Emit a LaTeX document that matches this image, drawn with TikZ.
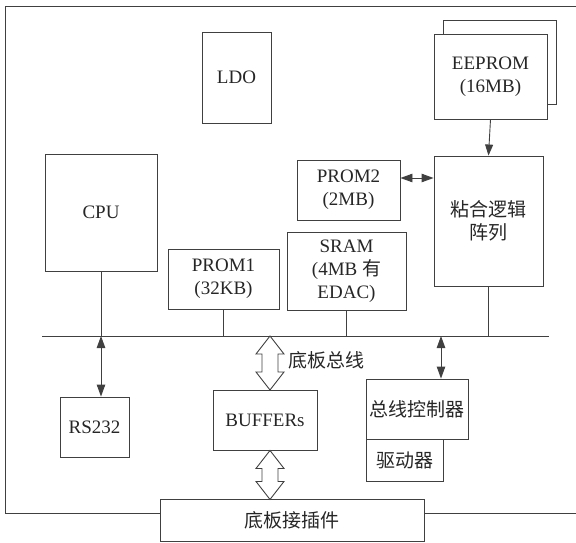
\documentclass[tikz,border=0pt]{standalone}
\usepackage{fontspec}
\setmainfont{Liberation Serif}
\newfontfamily\cjk{Noto Sans CJK SC}
\usetikzlibrary{arrows.meta, positioning}

\begin{document}
\begin{tikzpicture}[x=1pt, y=-1pt, line width=0.9pt,
    every node/.style={draw=black!75, rectangle, inner sep=0pt, align=center,
      text=black!85, font=\fontsize{19}{23}\selectfont},
    link/.style={draw=black!75},
    dbl/.style={link, {Triangle[length=12pt,width=8.5pt]}-{Triangle[length=12pt,width=8.5pt]}},
    sgl/.style={link, -{Triangle[length=11pt,width=8pt]}},
    hollow/.style={draw=black!75, fill=white, line join=miter}]
    \useasboundingbox (0,0) rectangle (576,543);

    % blocks
    \node[minimum width=69, minimum height=91] (ldo) at (236.5,77.5) {LDO};
    \node[minimum width=113, minimum height=84] (eeback) at (499.5,62) {};
    \node[fill=white, minimum width=113, minimum height=85] (eeprom) at (490.5,76.5) {EEPROM\\(16MB)};
    \node[minimum width=109, minimum height=130] (glue) at (488.5,221) {\cjk 粘合逻辑\\\cjk 阵列};
    \node[minimum width=103, minimum height=60] (prom2) at (348.5,190) {PROM2\\(2MB)};
    \node[minimum width=112, minimum height=117] (cpu) at (101,212.5) {CPU};
    \node[minimum width=111, minimum height=60] (prom1) at (223.5,279) {PROM1\\(32KB)};
    \node[minimum width=119, minimum height=78] (sram) at (346.5,271) {SRAM\\(4MB {\cjk 有}\\EDAC)};
    \node[minimum width=69, minimum height=60] (rs) at (94.5,427) {RS232};
    \node[minimum width=104, minimum height=60] (buf) at (265,420) {BUFFERs};
    \node[minimum width=102, minimum height=60] (ctrl) at (417,409) {\cjk 总线控制器};
    \node[minimum width=77, minimum height=42] (drv) at (404.5,460) {\cjk 驱动器};
    \node[minimum width=264, minimum height=42] (con) at (292,520) {\cjk 底板接插件};
    \node[draw=none, anchor=west] (buslabel) at (288,360) {\cjk 底板总线};

    % board outline and bus
    \coordinate (busL) at (42,336);
    \coordinate (busR) at (549,336);
    \draw[link] (con.west |- 0,513) -- (5,513) -- (5,6) -- (576,6);
    \draw[link] (con.east |- 0,513) -- (576,513);
    \draw[link] (busL) -- (busR);

    % edges
    \coordinate (p2) at ([yshift=12pt]prom2.east);
    \coordinate (ct) at ([xshift=24pt]ctrl.north);
    \draw[sgl] (eeprom.south) -- (glue.north);
    \draw[dbl] (p2) -- (glue.west |- p2);
    \draw[link] (glue.south) -- (glue.south |- busL);
    \draw[link] (sram.south) -- (sram.south |- busL);
    \draw[link] (prom1.south) -- (prom1.south |- busL);
    \draw[link] (cpu.south) -- (cpu.south |- busL);
    \draw[dbl] (cpu.south |- busL) -- (cpu.south |- rs.north);
    \draw[dbl] (ct |- busL) -- (ct);

    % wide bus arrows
    \coordinate (bt) at (270,336);
    \coordinate (bt2) at (bt |- buf.south);
    \draw[hollow] (bt) -- ++(14,18) -- ++(-6,0) -- ++(0,18) -- ++(6,0) -- ++(-14,18)
      -- ++(-14,-18) -- ++(6,0) -- ++(0,-18) -- ++(-6,0) -- cycle;
    \draw[hollow] (bt2) -- ++(14,18) -- ++(-6,0) -- ++(0,13) -- ++(6,0) -- ++(-14,18)
      -- ++(-14,-18) -- ++(6,0) -- ++(0,-13) -- ++(-6,0) -- cycle;
\end{tikzpicture}
\end{document}
